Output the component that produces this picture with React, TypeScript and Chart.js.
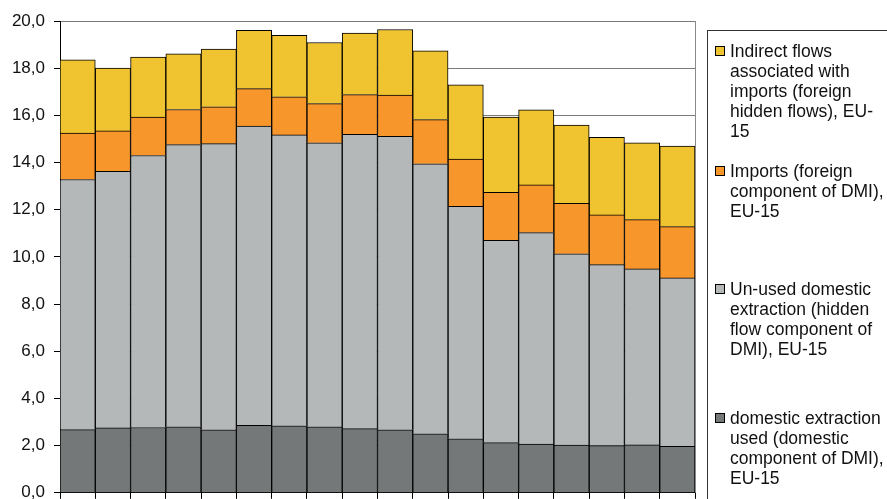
import React, { useEffect, useRef } from "react";
import { Chart, registerables } from "chart.js";

Chart.register(...registerables);

const categories = ["1980","1981","1982","1983","1984","1985","1986","1987","1988","1989","1990","1991","1992","1993","1994","1995","1996","1997"];
const domesticUsed = [2.68,2.75,2.77,2.80,2.67,2.86,2.84,2.80,2.72,2.67,2.50,2.29,2.13,2.06,2.02,2.00,2.03,1.97];
const unusedDomestic = [10.60,10.88,11.53,11.96,12.13,12.69,12.33,12.04,12.48,12.44,11.45,9.85,8.57,8.97,8.11,7.67,7.46,7.14];
const imports = [1.97,1.71,1.63,1.49,1.56,1.58,1.62,1.66,1.68,1.75,1.87,2.01,2.04,2.02,2.14,2.11,2.09,2.17];
const indirectFlows = [3.10,2.66,2.54,2.36,2.45,2.47,2.60,2.59,2.61,2.78,2.92,3.14,3.19,3.18,3.32,3.29,3.26,3.42];
const yTicks = [0, 2, 4, 6, 8, 10, 12, 14, 16, 18, 20];

const legendItems = [
  { color: "#F0C330", lines: ["Indirect flows", "associated with", "imports (foreign", "hidden flows), EU-", "15"], top: 51 },
  { color: "#F7962B", lines: ["Imports (foreign", "component of DMI),", "EU-15"], top: 171 },
  { color: "#B5B8B9", lines: ["Un-used domestic", "extraction (hidden", "flow component of", "DMI), EU-15"], top: 289 },
  { color: "#747879", lines: ["domestic extraction", "used (domestic", "component of DMI),", "EU-15"], top: 418 },
];

const FONT = "Arial, 'Liberation Sans', sans-serif";
const CANVAS_H = 512;

export default function App() {
  const ref = useRef<HTMLCanvasElement | null>(null);
  useEffect(() => {
    if (!ref.current) return;
    const rightBorder = {
      id: "rightBorder",
      afterDatasetsDraw(chart: any) {
        const { ctx, chartArea } = chart;
        ctx.save();
        ctx.strokeStyle = "#8a8a8a";
        ctx.lineWidth = 1;
        ctx.beginPath();
        ctx.moveTo(Math.round(chartArea.right) + 0.5, chartArea.top);
        ctx.lineTo(Math.round(chartArea.right) + 0.5, chartArea.bottom);
        ctx.stroke();
        ctx.restore();
      },
    };
    const mk = (label: string, data: number[], color: string) => ({
      label,
      data,
      backgroundColor: color,
      borderColor: "#000",
      borderWidth: 1,
      barPercentage: 1,
      categoryPercentage: 1,
    });
    const chart = new Chart(ref.current, {
      type: "bar",
      data: {
        labels: categories,
        datasets: [
          mk("domestic extraction used (domestic component of DMI), EU-15", domesticUsed, "#747879"),
          mk("Un-used domestic extraction (hidden flow component of DMI), EU-15", unusedDomestic, "#B5B8B9"),
          mk("Imports (foreign component of DMI), EU-15", imports, "#F7962B"),
          mk("Indirect flows associated with imports (foreign hidden flows), EU-15", indirectFlows, "#F0C330"),
        ],
      },
      options: {
        animation: false,
        responsive: false,
        maintainAspectRatio: false,
        layout: { padding: { top: 21, right: 192, bottom: 0, left: 0 } },
        plugins: { legend: { display: false }, tooltip: { enabled: false } },
        scales: {
          x: {
            stacked: true,
            ticks: { display: false },
            grid: { drawOnChartArea: false, tickLength: 6, tickColor: "#000", offset: true },
            border: { color: "#000", width: 1 },
          },
          y: {
            stacked: true,
            min: 0,
            max: 20,
            afterBuildTicks: (scale: any) => {
              scale.ticks = yTicks.map((v) => ({ value: v }));
            },
            afterFit: (scale: any) => {
              scale.width = 60;
            },
            ticks: {
              color: "#111",
              padding: 9,
              font: { family: FONT, size: 17 },
              callback: (v: any) => Number(v).toFixed(1).replace(".", ","),
            },
            grid: { color: "#7a7a7a", tickLength: 6, tickColor: "#000", lineWidth: 1 },
            border: { color: "#000", width: 1 },
          },
        },
      },
      plugins: [rightBorder],
    });
    return () => chart.destroy();
  }, []);

  return (
    <div style={{ position: "absolute", left: 0, top: 0, width: 887, height: 499, overflow: "hidden", background: "#fff" }}>
      <canvas ref={ref} width={887} height={CANVAS_H} style={{ position: "absolute", left: 0, top: 0, width: 887, height: CANVAS_H }} />
      <div style={{ position: "absolute", left: 707, top: 30, width: 200, height: 480, border: "1px solid #333", boxSizing: "border-box" }} />
      {legendItems.map((it, i) => (
        <div key={i}>
          <div style={{ position: "absolute", left: 715, top: it.top - 5, width: 8, height: 8, border: "1px solid #000", background: it.color }} />
          <div style={{ position: "absolute", left: 730, top: it.top - 10, fontFamily: FONT, fontSize: 17.5, lineHeight: "20px", color: "#111", whiteSpace: "nowrap" }}>
            {it.lines.map((l, j) => (
              <div key={j}>{l}</div>
            ))}
          </div>
        </div>
      ))}
    </div>
  );
}
